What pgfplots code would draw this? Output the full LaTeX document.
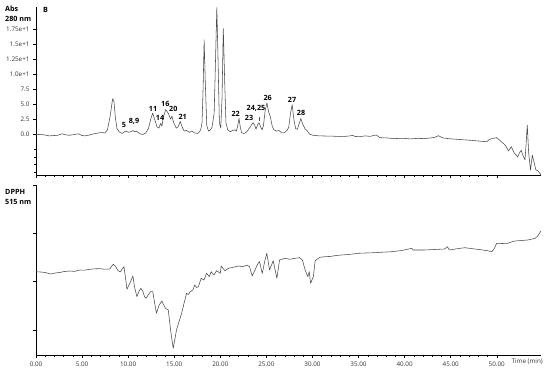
\documentclass[border=0pt]{standalone}
\usepackage{pgfplots}
\pgfplotsset{compat=1.18}
\usepackage{fontspec}
\setmainfont{Open Sans}
\definecolor{curve}{HTML}{4A4A4A}
\pgfplotsset{
  chrom/.style={
    anchor=south west, scale only axis, width=505pt,
    xmin=0, xmax=54.8,
    axis x line=bottom, axis y line=left,
    axis line style={-, black, line width=0.7pt},
    x axis line style={-}, y axis line style={-},
    tick align=outside, tick style={black, line width=0.5pt},
    major tick length=3pt, minor tick length=1.8pt,
    xtick={0,5,...,50}, minor x tick num=4,
    ticklabel style={font=\fontsize{6.3}{7}\selectfont, text=black!80},
    /pgf/number format/assume math mode=true,
    clip=false,
  },
  trace/.style={curve, line width=0.55pt, line join=round, mark=none, x filter/.expression={0.99*x}},
}
\begin{document}
\begin{tikzpicture}
\useasboundingbox (0,0) rectangle (550pt,373pt);
% ---------------- top: Abs 280 nm
\begin{axis}[chrom, at={(36pt,198pt)}, height=168pt,
  ymin=-6.72, ymax=21.28, xticklabels={},
  ytick={0,2.5,5,7.5,10,12.5,15,17.5},
  yticklabels={0.0,2.5,5.0,7.5,1.0e+1,1.25e+1,1.5e+1,1.75e+1},
  extra y ticks={-2.5,-3.75,-5,-6.25}, extra y tick labels={},
  extra y tick style={major tick length=2pt},
]
\addplot[trace] coordinates {
(0,0.0)(0.48,0.05)(0.96,-0.05)(1.43,-0.2)(1.91,-0.15)(2.39,-0.1)(2.87,0.15)(3.15,0.0)
(3.63,-0.1)(4.11,0.0)(4.68,0.15)(4.97,-0.1)(5.35,-0.2)(5.73,-0.1)(6.21,0.1)(6.69,0.25)
(7.16,0.35)(7.54,0.3)(7.83,0.8)(8.12,3.0)(8.40,6.0)(8.55,5.5)(8.69,3.0)(8.88,1.0)
(9.17,0.4)(9.45,0.2)(9.65,0.45)(9.84,0.6)(10.12,0.4)(10.41,0.5)(10.60,0.7)(10.79,0.5)
(10.98,0.6)(11.17,0.4)(11.46,0.1)(11.75,0.05)(12.03,0.3)(12.32,1.0)(12.61,2.8)(12.80,3.6)
(12.99,2.6)(13.27,1.3)(13.47,1.1)(13.66,1.9)(13.80,1.4)(13.94,2.8)(14.23,4.2)(14.52,3.5)
(14.75,2.6)(14.90,3.1)(15.09,2.0)(15.38,1.1)(15.57,1.3)(15.81,2.2)(16.04,1.2)(16.24,0.6)
(16.52,0.7)(16.81,0.4)(17.09,0.6)(17.38,0.3)(17.76,0.2)(18.05,0.8)(18.20,2.0)(18.32,8.0)
(18.43,15.8)(18.55,9.0)(18.72,1.5)(18.91,0.6)(19.10,0.8)(19.29,1.2)(19.53,3.6)(19.67,12.0)
(19.82,21.2)(19.96,12.0)(20.10,2.0)(20.25,1.1)(20.39,6.0)(20.53,17.7)(20.68,9.0)(20.82,2.0)
(21.01,0.8)(21.30,0.5)(21.58,0.7)(21.77,0.8)(21.97,0.6)(22.11,1.5)(22.25,2.7)(22.39,1.3)
(22.54,0.3)(22.82,0.2)(23.11,0.5)(23.49,1.3)(23.78,2.0)(23.97,1.6)(24.11,0.9)(24.30,1.7)
(24.45,2.0)(24.59,1.4)(24.78,0.8)(24.93,1.5)(25.12,4.0)(25.31,5.3)(25.50,3.8)(25.69,3.0)
(25.88,1.5)(26.07,0.8)(26.36,0.6)(26.64,0.7)(26.93,0.3)(27.22,0.3)(27.50,0.7)(27.70,1.2)
(27.89,3.5)(28.08,5.0)(28.27,2.5)(28.46,1.0)(28.65,0.9)(28.84,1.8)(29.03,2.7)(29.22,1.8)
(29.51,0.9)(29.70,0.7)(29.99,0.1)(30.37,-0.1)(31.04,-0.2)(32.47,-0.25)(33.4,-0.3)
(34.2,-0.25)(34.7,-0.12)(35.0,-0.3)(35.5,-0.33)(36.1,-0.2)(36.6,-0.28)(37.0,-0.15)(37.3,-0.05)
(37.7,-0.5)(38.5,-0.55)(39.3,-0.65)(40.2,-0.6)(41.0,-0.7)(41.8,-0.62)(42.6,-0.65)(43.2,-0.55)
(43.7,-0.45)(44.1,-0.17)(44.6,-0.55)(45.5,-0.7)(46.4,-0.8)(47.3,-0.9)(48.1,-1.0)(48.8,-1.1)
(49.4,-1.17)(49.7,-0.8)(50.1,-0.6)(50.5,-0.5)(50.8,-0.9)(51.4,-1.7)(51.8,-2.7)(52.1,-2.0)
(52.4,-3.0)(52.8,-3.7)(53.0,-3.0)(53.2,-2.6)(53.3,-3.2)(53.6,-4.2)(53.7,-2.0)(53.85,1.6)
(54.0,-3.0)(54.2,-5.9)(54.4,-3.4)(54.8,-5.9)(55.0,-6.0)(55.35,-6.7)
};
\draw[black!70, line width=0.4pt] (axis cs:24.2,2.3) -- (axis cs:24.2,3.0);
\end{axis}
% ---------------- bottom: DPPH 515 nm
\begin{axis}[chrom, at={(36pt,18pt)}, height=170pt,
  ymin=0, ymax=170,
  ytick={25,73.5,122,170}, yticklabels={},
  xticklabels={0.00,5.00,10.00,15.00,20.00,25.00,30.00,35.00,40.00,45.00,50.00},
]
\addplot[trace] coordinates {
(0,83.3)(0.5,83.0)(1.0,82.5)(1.4,81.5)(1.7,81)(2.1,82)(2.6,82.5)(3.1,83.5)(3.7,84)(4.2,83.6)
(4.8,85)(5.3,84.8)(5.9,85.7)(6.4,86.2)(7.0,86.3)(7.5,85.8)(8.1,86)(8.3,89)(8.47,90.7)(8.76,88)
(8.98,84.5)(9.25,83)(9.45,86)(9.64,88.3)(9.8,78)(9.97,65.7)(10.3,72)(10.62,79)(10.8,68)
(11.06,58.3)(11.3,64)(11.5,66.7)(11.7,64)(11.9,58.3)(12.05,56.7)(12.3,60)(12.56,63.3)
(12.8,63.3)(13.0,52)(13.2,41.7)(13.5,50)(13.8,54)(14.0,50)(14.2,46.7)(14.5,45)
(14.75,25)(15.04,6.7)(15.4,25)(15.96,41.7)(16.5,61.7)(16.7,60.5)(16.9,63.3)(17.2,65)
(17.4,70)(17.6,67.5)(17.8,68.3)(18.1,76.7)(18.4,75)(18.7,81.7)(19.0,78.3)(19.2,83.3)
(19.5,80)(19.8,84.3)(20.2,81.7)(20.3,89)(20.7,84.3)(21.1,86.7)(21.6,87.7)(22.2,89)
(22.7,88.3)(23.1,90)(23.4,88.3)(23.7,79)(24.0,85)(24.35,91.7)(24.5,93.3)(24.8,81.7)
(25.1,95)(25.3,101.7)(25.6,85)(26.0,94.3)(26.4,76.7)(26.7,95)(27.3,96.7)(27.8,95.7)
(28.4,96.7)(28.9,97.3)(29.2,95)(29.5,85)(29.8,78.3)(29.95,83.3)(30.1,71.7)(30.4,78.3)
(30.6,94.3)(31.1,97.7)(31.7,98.3)(32.3,98.6)(32.9,99.5)(33.5,100)(34.1,100.4)(34.7,101)
(35.3,101.7)(36.2,102)(37.1,102.3)(38.0,102.8)(39.0,103.3)(40.1,104.5)(41.2,106.7)(41.3,105)
(42.0,105)(42.6,105)(43.7,105.5)(44.8,106)(45.1,108.3)(45.3,105)(46.2,106.3)(47.0,107.3)
(48.1,106)(48.8,105.2)(49.5,104.3)(49.95,103.3)(50.2,106)(50.5,111.7)(51.1,111.5)(51.7,111.7)
(52.1,113)(52.5,114)(53.2,114.5)(53.9,115)(54.3,115.8)(54.7,116.7)(55.0,119)(55.35,124)
};
\end{axis}
% ---------------- texts
\begin{scope}[font=\bfseries\fontsize{7.2}{8}\selectfont]
\node[anchor=west, inner sep=0] at (5pt,364pt) {Abs};
\node[anchor=west, inner sep=0] at (5pt,354pt) {280 nm};
\node[anchor=west, inner sep=0] at (43pt,363pt) {B};
\node[anchor=west, inner sep=0] at (5pt,181.5pt) {DPPH};
\node[anchor=west, inner sep=0] at (5pt,171.5pt) {515 nm};
\node at (124pt,248pt) {5};
\node at (134pt,251.3pt) {8,9};
\node at (153pt,263.7pt) {11};
\node at (160pt,255pt) {14};
\node at (165.3pt,268.7pt) {16};
\node at (173.3pt,263.7pt) {20};
\node at (182.7pt,255.7pt) {21};
\node at (235.7pt,258.7pt) {22};
\node at (249pt,255.3pt) {23};
\node at (256pt,264.7pt) {24,25};
\node at (267.7pt,274.7pt) {26};
\node at (292pt,273pt) {27};
\node at (301pt,259.7pt) {28};
\end{scope}
\node[anchor=east, inner sep=0, font=\fontsize{6.3}{7}\selectfont, text=black!80] at (543pt,11.5pt) {Time (min)};
\end{tikzpicture}
\end{document}
